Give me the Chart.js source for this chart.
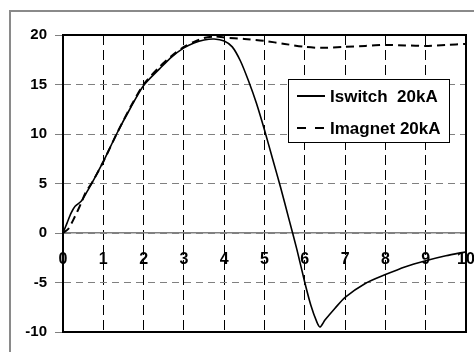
<!DOCTYPE html>
<html>
<head>
<meta charset="utf-8">
<script src="https://cdn.jsdelivr.net/npm/chart.js@4/dist/chart.umd.min.js"></script>
<style>
  html, body { margin: 0; padding: 0; background: #fff; }
  #wrap { width: 474px; height: 352px; }
</style>
</head>
<body>
<div id="wrap"><canvas id="c" width="474" height="352"></canvas></div>
<script>
// ---- data ----
const seriesLabels = ['Iswitch  20kA', 'Imagnet 20kA'];
const xTickValues = [0, 1, 2, 3, 4, 5, 6, 7, 8, 9, 10];
const yTickValues = [-10, -5, 0, 5, 10, 15, 20];

const iswitchT = [0, 0.1, 0.2, 0.3, 0.45, 0.6, 0.75, 1.0, 1.33, 1.67, 2.0, 2.4, 2.7, 3.0, 3.25, 3.5, 3.75, 4.0, 4.2, 4.4, 4.6, 4.8, 5.0, 5.2, 5.4, 5.6, 5.8, 6.0, 6.15, 6.3, 6.38, 6.5, 6.75, 7.0, 7.5, 8.0, 8.5, 9.0, 9.5, 10.0];
const iswitchI = [0, 1.0, 2.0, 2.7, 3.2, 4.2, 5.3, 7.2, 10.0, 12.6, 14.9, 16.6, 17.8, 18.7, 19.2, 19.5, 19.6, 19.4, 18.8, 17.4, 15.4, 13.1, 10.4, 7.5, 4.6, 1.5, -1.6, -5.0, -7.3, -9.0, -9.5, -8.8, -7.6, -6.5, -5.1, -4.2, -3.4, -2.8, -2.3, -1.9];

const imagnetT = [0, 0.13, 0.3, 0.46, 0.55, 0.75, 1.0, 1.33, 1.67, 2.0, 2.4, 2.7, 3.0, 3.25, 3.5, 3.75, 4.0, 4.5, 5.0, 5.5, 6.0, 6.4, 7.0, 7.5, 8.0, 8.5, 9.0, 9.5, 10.0];
const imagnetI = [0, 0.4, 1.7, 3.1, 4.0, 5.3, 7.2, 10.0, 12.7, 15.0, 16.8, 17.9, 18.8, 19.3, 19.7, 19.85, 19.75, 19.6, 19.4, 19.1, 18.8, 18.7, 18.8, 18.9, 19.0, 18.95, 18.9, 19.0, 19.1];

const toPoints = (xs, ys) => xs.map((x, i) => ({ x: x, y: ys[i] }));

const FONT = '"Liberation Sans", Arial, Helvetica, sans-serif';

const framePlugin = {
  id: 'frame',
  beforeDraw(chart) {
    const ctx = chart.ctx;
    ctx.save();
    ctx.strokeStyle = '#8a8a8a';
    ctx.lineWidth = 2;
    ctx.beginPath();
    ctx.moveTo(10, chart.height);
    ctx.lineTo(10, 11);
    ctx.lineTo(chart.width, 11);
    ctx.stroke();
    ctx.restore();
  },
  beforeDatasetsDraw(chart) {
    const a = chart.chartArea;
    const ctx = chart.ctx;
    ctx.save();
    ctx.strokeStyle = '#000';
    ctx.lineWidth = 2;
    ctx.strokeRect(a.left, a.top, a.right - a.left, a.bottom - a.top);
    ctx.restore();
  },
  afterDraw(chart) {
    const ctx = chart.ctx;
    const bx = 288.5, by = 79.5, bw = 161, bh = 63;
    ctx.save();
    ctx.fillStyle = '#fff';
    ctx.fillRect(bx, by, bw, bh);
    ctx.strokeStyle = '#000';
    ctx.lineWidth = 1;
    ctx.strokeRect(bx, by, bw, bh);
    const rows = [96, 128];
    chart.data.datasets.forEach((ds, i) => {
      const y = rows[i];
      ctx.beginPath();
      ctx.lineWidth = 2;
      ctx.strokeStyle = '#000';
      ctx.setLineDash(i === 1 ? [9, 9] : []);
      ctx.moveTo(297, y);
      ctx.lineTo(325, y);
      ctx.stroke();
      ctx.setLineDash([]);
      ctx.fillStyle = '#000';
      ctx.font = 'bold 17px ' + FONT;
      ctx.textBaseline = 'middle';
      ctx.textAlign = 'left';
      ctx.fillText(ds.label, 330, y + 1);
    });
    ctx.restore();
  }
};

new Chart(document.getElementById('c'), {
  type: 'line',
  data: {
    datasets: [
      {
        label: seriesLabels[0],
        data: toPoints(iswitchT, iswitchI),
        borderColor: '#000',
        borderWidth: 1.6,
        pointRadius: 0,
        tension: 0.25,
        fill: false
      },
      {
        label: seriesLabels[1],
        data: toPoints(imagnetT, imagnetI),
        borderColor: '#000',
        borderWidth: 2,
        borderDash: [8, 5],
        pointRadius: 0,
        tension: 0.25,
        fill: false
      }
    ]
  },
  options: {
    responsive: false,
    animation: false,
    layout: { padding: { left: 0, right: 8, top: 35, bottom: 20 } },
    plugins: {
      legend: { display: false },
      tooltip: { enabled: false }
    },
    scales: {
      x: {
        type: 'linear',
        min: 0,
        max: 10,
        position: { y: 0 },
        afterBuildTicks: s => { s.ticks = xTickValues.map(v => ({ value: v })); },
        afterFit: s => { s.paddingLeft = 0; s.paddingRight = 0; },
        ticks: {
          color: '#000',
          padding: 17,
          maxRotation: 0,
          autoSkip: false,
          font: { family: FONT, size: 16, weight: 'bold' }
        },
        grid: { color: '#000', lineWidth: 1, drawTicks: false },
        border: { color: '#808080', width: 1.5, dash: [10, 5] }
      },
      y: {
        type: 'linear',
        min: -10,
        max: 20,
        afterBuildTicks: s => { s.ticks = yTickValues.map(v => ({ value: v })); },
        afterFit: s => { s.width = 63; s.paddingTop = 0; s.paddingBottom = 0; },
        ticks: {
          color: '#000',
          padding: 8,
          font: { family: FONT, size: 15, weight: 'bold' }
        },
        grid: { color: '#808080', lineWidth: 1, tickLength: 8 },
        border: { color: '#000', width: 2, dash: [7, 5] }
      }
    }
  },
  plugins: [framePlugin]
});
</script>
</body>
</html>
